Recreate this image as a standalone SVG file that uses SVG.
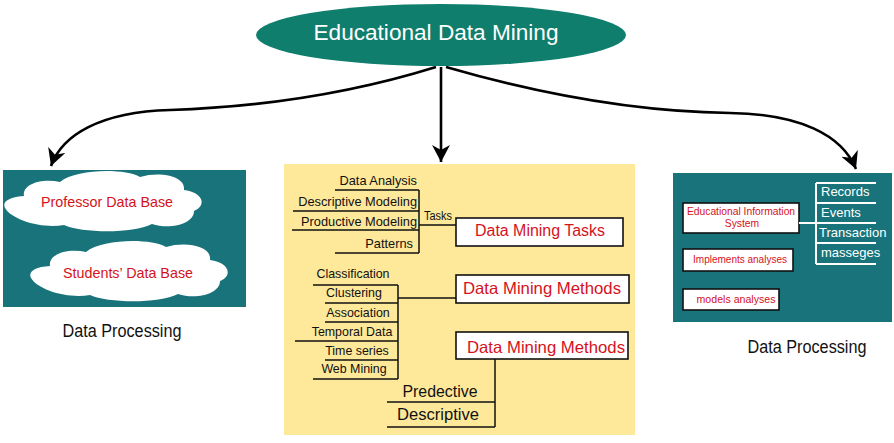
<svg xmlns="http://www.w3.org/2000/svg" width="894" height="443" viewBox="0 0 894 443">
<style>
text{font-family:"Liberation Sans",Arial,sans-serif}
.red{fill:#d5121c}
.blk{fill:#111}
.wht{fill:#fff}
.teal{fill:#19737b}
.box{fill:#fff;stroke:#111;stroke-width:1.6}
.ln{stroke:#111;stroke-width:1.5;fill:none}
.wln{stroke:#fff;stroke-width:2;fill:none}
.arr{stroke:#000;stroke-width:2.6;fill:none}
</style>
<defs>
<marker id="ah" markerUnits="userSpaceOnUse" markerWidth="18" markerHeight="18" viewBox="0 0 18 18" refX="17" refY="9" orient="auto">
<path d="M0,0 L17,9 L0,18 L5,9 Z" fill="#000"/>
</marker>
<path id="cloud" d="M5,208 C2,202 8,197 24,196 C22,184 42,178 60,182 C76,169 124,168 140,177 C160,171 186,176 184,190 C202,192 208,205 194,211 C194,224 170,230 152,224 C132,234 82,233 64,225 C42,229 12,220 5,208 Z" fill="#fff"/>
</defs>

<g id="root">
<ellipse cx="441" cy="35" rx="185" ry="31" fill="#0f7e6d"/>
<text x="436" y="40" text-anchor="middle" class="wht" font-size="22.5" textLength="245" lengthAdjust="spacingAndGlyphs">Educational Data Mining</text>
</g>

<g id="connectors">
<path class="arr" d="M436,67 C330,100 230,108 170,110 C100,112 62,135 51,166" marker-end="url(#ah)"/>
<path class="arr" d="M441,67 L441,162" marker-end="url(#ah)"/>
<path class="arr" d="M446,67 C560,100 650,112 730,113 C800,114 842,135 856,169" marker-end="url(#ah)"/>
</g>

<g id="left-panel">
<rect x="3" y="170" width="243" height="137" class="teal"/>
<use href="#cloud"/>
<text x="107" y="207" text-anchor="middle" class="red" font-size="14.5" textLength="132" lengthAdjust="spacingAndGlyphs">Professor Data Base</text>
<use href="#cloud" transform="translate(26,70)"/>
<text x="128" y="278" text-anchor="middle" class="red" font-size="14.5" textLength="130" lengthAdjust="spacingAndGlyphs">Students’ Data Base</text>
<text x="122" y="337" text-anchor="middle" class="blk" font-size="17.5" textLength="119" lengthAdjust="spacingAndGlyphs">Data Processing</text>
</g>

<g id="middle-panel">
<rect x="284" y="164" width="351" height="271" fill="#fee89a"/>
<g font-size="12.8" class="blk" text-anchor="end">
<text x="417" y="185">Data Analysis</text>
<text x="417" y="206">Descriptive Modeling</text>
<text x="417" y="226">Productive Modeling</text>
<text x="413" y="248">Patterns</text>
</g>
<path class="ln" d="M335,190 H419 M293,211 H419 M292,230 H419 M335,253 H419 M419,190 V253 M419,225 H456"/>
<text x="424" y="220" class="blk" font-size="12" textLength="28" lengthAdjust="spacingAndGlyphs">Tasks</text>
<rect x="456" y="218" width="167" height="28" class="box"/>
<text x="540" y="236" text-anchor="middle" class="red" font-size="16" textLength="130" lengthAdjust="spacingAndGlyphs">Data Mining Tasks</text>

<g font-size="12.4" class="blk" text-anchor="middle">
<text x="353" y="278">Classification</text>
<text x="354" y="297">Clustering</text>
<text x="358" y="317">Association</text>
<text x="352" y="336">Temporal Data</text>
<text x="357" y="355">Time series</text>
<text x="354" y="373">Web Mining</text>
</g>
<path class="ln" d="M313,285 H398 M325,303 H398 M325,322 H398 M295,341 H398 M325,360 H398 M313,379 H398 M398,285 V379 M398,298 H456"/>
<rect x="456" y="275" width="173" height="28" class="box"/>
<text x="542" y="294" text-anchor="middle" class="red" font-size="16.5" textLength="158" lengthAdjust="spacingAndGlyphs">Data Mining Methods</text>

<rect x="456" y="332" width="172" height="27" class="box"/>
<text x="546" y="353" text-anchor="middle" class="red" font-size="16.5" textLength="158" lengthAdjust="spacingAndGlyphs">Data Mining Methods</text>
<path class="ln" d="M495,359 V427 M387,402 H495 M387,427 H495"/>
<text x="440" y="397" text-anchor="middle" class="blk" font-size="16.5" textLength="75" lengthAdjust="spacingAndGlyphs">Predective</text>
<text x="438" y="420" text-anchor="middle" class="blk" font-size="16.5" textLength="82" lengthAdjust="spacingAndGlyphs">Descriptive</text>
</g>

<g id="right-panel">
<rect x="673" y="173" width="219" height="149" class="teal"/>
<rect x="683" y="203" width="116" height="30" class="box"/>
<text x="741" y="215" text-anchor="middle" class="red" font-size="10.3">Educational Information</text>
<text x="742" y="227" text-anchor="middle" class="red" font-size="10.3">System</text>
<rect x="683" y="249" width="110" height="22" class="box"/>
<text x="740" y="263" text-anchor="middle" class="red" font-size="10">Implements analyses</text>
<rect x="683" y="289" width="96" height="21" class="box"/>
<text x="736" y="303" text-anchor="middle" class="red" font-size="10.6">models analyses</text>
<path class="wln" d="M799,223 H816 M816,183 V264 M816,183 H876 M816,203 H876 M816,223 H876 M816,243 H876 M816,264 H876"/>
<g class="wht" font-size="13">
<text x="821" y="196">Records</text>
<text x="821" y="217">Events</text>
<text x="819" y="237">Transaction</text>
<text x="821" y="257">masseges</text>
</g>
<text x="807" y="353" text-anchor="middle" class="blk" font-size="17.5" textLength="119" lengthAdjust="spacingAndGlyphs">Data Processing</text>
</g>
</svg>
